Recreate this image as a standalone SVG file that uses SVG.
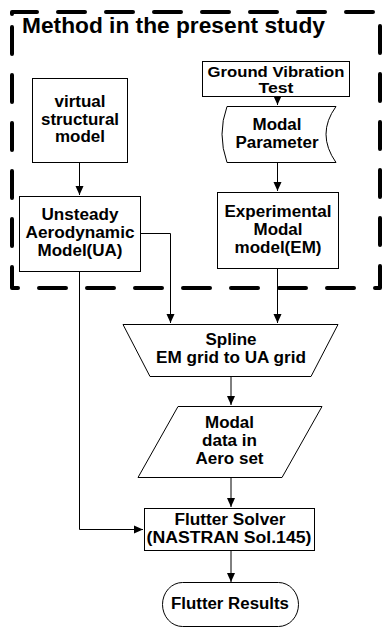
<svg xmlns="http://www.w3.org/2000/svg" width="382" height="629" viewBox="0 0 382 629">
<style>
.shape{fill:#fff;stroke:#000;stroke-width:1}
.t{font-family:"Liberation Sans",Arial,sans-serif;font-weight:bold;font-size:16.8px;fill:#000;text-anchor:middle}
.gvt{font-size:14.2px}
.title{font-family:"Liberation Sans",Arial,sans-serif;font-weight:bold;font-size:21.5px;fill:#000}
.conn{fill:none;stroke:#000;stroke-width:1}
.frame{fill:none;stroke:#000;stroke-width:4;stroke-dasharray:27 21;stroke-linecap:round;stroke-linejoin:round}
</style>
<defs>
<marker id="arr" markerUnits="userSpaceOnUse" markerWidth="10" markerHeight="10" refX="9" refY="5" orient="auto">
<path d="M0,1 L9,5 L0,9 Z" fill="#000"/>
</marker>
</defs>
<rect width="382" height="629" fill="#fff"/>
<g id="frame">
<path class="frame" d="M12,14 L12,12 L380,12 L380,288 L12,288 Z"/>
<text class="title" x="22" y="33" textLength="303" lengthAdjust="spacingAndGlyphs">Method in the present study</text>
</g>
<g id="connectors">
<path class="conn" d="M79.5,162 L79.5,195" marker-end="url(#arr)"/>
<path class="conn" d="M277.5,96 L277.5,105" marker-end="url(#arr)"/>
<path class="conn" d="M277.5,162 L277.5,191" marker-end="url(#arr)"/>
<path class="conn" d="M140,233.5 L170.5,233.5 L170.5,323" marker-end="url(#arr)"/>
<path class="conn" d="M277.5,268 L277.5,323" marker-end="url(#arr)"/>
<path class="conn" d="M231,376 L231,405" marker-end="url(#arr)"/>
<path class="conn" d="M231,477 L231,507" marker-end="url(#arr)"/>
<path class="conn" d="M79.5,271 L79.5,529.5 L143,529.5" marker-end="url(#arr)"/>
<path class="conn" d="M231,550 L231,582" marker-end="url(#arr)"/>
</g>
<g id="virtual-structural-model">
<rect class="shape" x="32.5" y="78.5" width="95" height="84"/>
<text class="t" x="80" y="107" textLength="51" lengthAdjust="spacingAndGlyphs">virtual</text>
<text class="t" x="80" y="124.5" textLength="78" lengthAdjust="spacingAndGlyphs">structural</text>
<text class="t" x="80" y="142" textLength="50" lengthAdjust="spacingAndGlyphs">model</text>
</g>
<g id="ground-vibration-test">
<rect class="shape" x="202.5" y="61.5" width="147" height="35"/>
<text class="t gvt" x="276" y="76.5" textLength="137" lengthAdjust="spacingAndGlyphs">Ground Vibration</text>
<text class="t gvt" x="276" y="93" textLength="35" lengthAdjust="spacingAndGlyphs">Test</text>
</g>
<g id="modal-parameter">
<path class="shape" d="M227,106.5 L336,106.5 Q316,134 336,162.5 L227,162.5 Q217,134 227,106.5 Z"/>
<text class="t" x="277" y="130" textLength="49" lengthAdjust="spacingAndGlyphs">Modal</text>
<text class="t" x="277" y="148" textLength="83" lengthAdjust="spacingAndGlyphs">Parameter</text>
</g>
<g id="unsteady-aerodynamic-model">
<rect class="shape" x="19.5" y="196.5" width="121" height="75"/>
<text class="t" x="80" y="220" textLength="77" lengthAdjust="spacingAndGlyphs">Unsteady</text>
<text class="t" x="80" y="238" textLength="109" lengthAdjust="spacingAndGlyphs">Aerodynamic</text>
<text class="t" x="80" y="256" textLength="85" lengthAdjust="spacingAndGlyphs">Model(UA)</text>
</g>
<g id="experimental-modal-model">
<rect class="shape" x="217.5" y="192.5" width="121" height="76"/>
<text class="t" x="278" y="216.5" textLength="107" lengthAdjust="spacingAndGlyphs">Experimental</text>
<text class="t" x="278" y="235" textLength="49" lengthAdjust="spacingAndGlyphs">Modal</text>
<text class="t" x="278" y="253" textLength="87" lengthAdjust="spacingAndGlyphs">model(EM)</text>
</g>
<g id="spline">
<path class="shape" d="M123,324.5 L338,324.5 L311,376.5 L150,376.5 Z"/>
<text class="t" x="231" y="345" textLength="51" lengthAdjust="spacingAndGlyphs">Spline</text>
<text class="t" x="231" y="363" textLength="150" lengthAdjust="spacingAndGlyphs">EM grid to UA grid</text>
</g>
<g id="modal-data">
<path class="shape" d="M178,406.5 L322,406.5 L282,477.5 L138,477.5 Z"/>
<text class="t" x="229.5" y="428" textLength="49" lengthAdjust="spacingAndGlyphs">Modal</text>
<text class="t" x="229.5" y="445.5" textLength="55" lengthAdjust="spacingAndGlyphs">data in</text>
<text class="t" x="229.5" y="463.5" textLength="68" lengthAdjust="spacingAndGlyphs">Aero set</text>
</g>
<g id="flutter-solver">
<rect class="shape" x="144.5" y="508.5" width="170" height="42"/>
<text class="t" x="230" y="525" textLength="111" lengthAdjust="spacingAndGlyphs">Flutter Solver</text>
<text class="t" x="229" y="543" textLength="165" lengthAdjust="spacingAndGlyphs">(NASTRAN Sol.145)</text>
</g>
<g id="flutter-results">
<rect class="shape" x="162.5" y="582.5" width="136" height="44" rx="20" ry="22"/>
<text class="t" x="230" y="609" textLength="118" lengthAdjust="spacingAndGlyphs">Flutter Results</text>
</g>
</svg>
